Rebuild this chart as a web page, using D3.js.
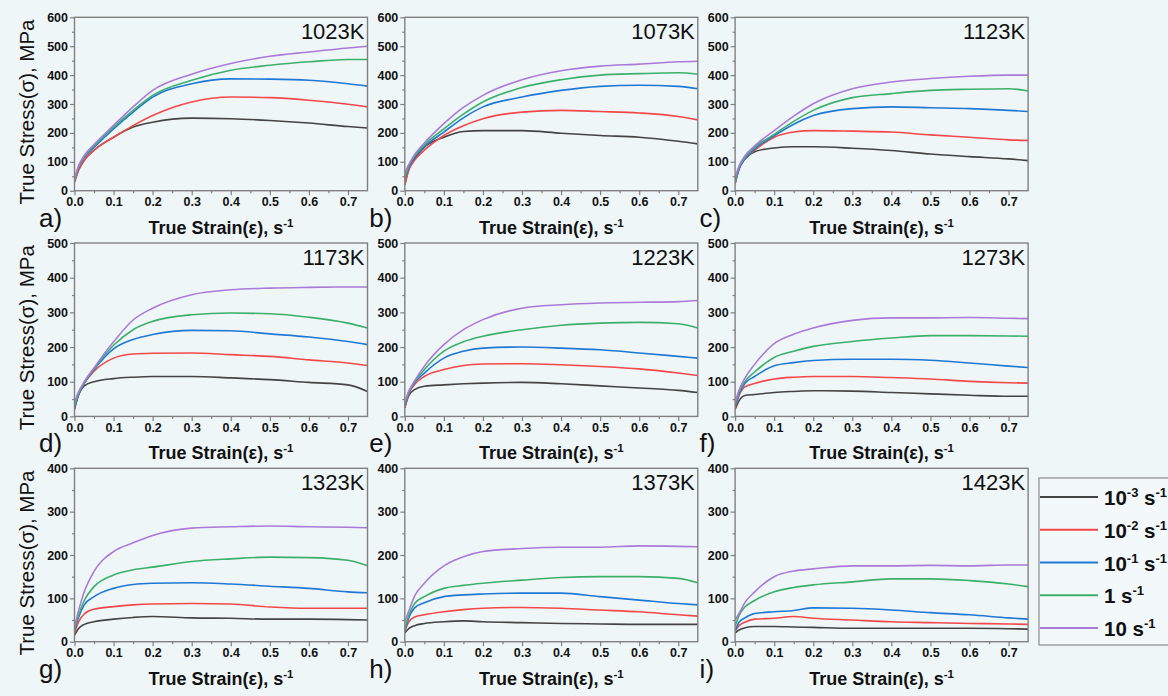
<!DOCTYPE html>
<html>
<head>
<meta charset="utf-8">
<script src="https://cdn.jsdelivr.net/npm/d3@7"></script>
<style>
  html, body { margin: 0; padding: 0; background: #eff6f8; }
  svg { display: block; font-family: "Liberation Sans", Arial, sans-serif; }
</style>
</head>
<body>
<svg id="chart" width="1168" height="696"></svg>
<script>
// True strain sampling points (shared by every curve)
const strain = [0, 0.01, 0.025, 0.05, 0.1, 0.15, 0.2, 0.3, 0.4, 0.5, 0.6, 0.7, 0.75];

// Strain-rate series, in drawing order
const rates = ["1e-3", "1e-2", "1e-1", "1", "10"];
const rateColors = ["#444444", "#f2484a", "#1f78d4", "#3cb06a", "#a97ad8"];
const rateBase = ["10", "10", "10", "1", "10"];
const rateExp = ["-3", "-2", "-1", "", ""];

// Panels
const temperatures = ["1023K", "1073K", "1123K", "1173K", "1223K", "1273K", "1323K", "1373K", "1423K"];
const panelLetters = ["a)", "b)", "c)", "d)", "e)", "f)", "g)", "h)", "i)"];
const stressMax = [600, 600, 600, 500, 500, 500, 400, 400, 400];
const xTickValues = [0, 0.1, 0.2, 0.3, 0.4, 0.5, 0.6, 0.7];

// True stress (MPa), one row per strain rate: 1e-3, 1e-2, 1e-1, 1, 10 s^-1
const stress1023 = [
  [30, 70, 105, 140, 185, 220, 237, 251, 249, 243, 234, 222, 217],
  [30, 70, 105, 140, 185, 225, 260, 307, 324, 322, 313, 299, 290],
  [35, 80, 115, 150, 214, 272, 324, 370, 387, 386, 382, 370, 362],
  [35, 80, 118, 155, 220, 278, 330, 382, 417, 434, 446, 454, 454],
  [40, 85, 122, 160, 226, 290, 347, 403, 440, 465, 480, 494, 500]
];
const stress1073 = [
  [20, 75, 110, 150, 185, 205, 208, 208, 199, 191, 185, 171, 162],
  [20, 70, 105, 140, 191, 225, 249, 272, 278, 274, 269, 257, 245],
  [40, 80, 115, 152, 203, 252, 290, 324, 347, 361, 365, 361, 353],
  [45, 85, 120, 158, 214, 265, 307, 357, 384, 400, 405, 408, 403],
  [60, 90, 125, 165, 232, 288, 330, 384, 415, 431, 438, 446, 448]
];
const stress1123 = [
  [25, 75, 110, 135, 148, 152, 152, 147, 139, 127, 118, 110, 104],
  [25, 75, 110, 140, 185, 203, 208, 206, 203, 193, 185, 176, 174],
  [30, 75, 110, 145, 190, 230, 260, 284, 290, 287, 284, 278, 274],
  [35, 80, 115, 150, 195, 240, 278, 322, 336, 347, 351, 353, 345],
  [45, 85, 120, 155, 208, 258, 301, 353, 376, 388, 396, 400, 400]
];
const stress1173 = [
  [20, 60, 88, 100, 109, 113, 115, 115, 111, 106, 98, 91, 72],
  [25, 62, 95, 130, 168, 180, 182, 183, 178, 173, 163, 154, 147],
  [25, 62, 96, 135, 195, 222, 236, 248, 247, 238, 229, 216, 207],
  [30, 65, 97, 137, 205, 250, 274, 293, 298, 296, 286, 269, 255],
  [40, 70, 100, 140, 215, 278, 312, 351, 365, 370, 372, 373, 373]
];
const stress1223 = [
  [25, 60, 77, 87, 91, 94, 96, 98, 94, 88, 82, 75, 69],
  [25, 65, 92, 115, 135, 147, 151, 152, 149, 144, 137, 125, 118],
  [30, 68, 97, 125, 168, 188, 197, 200, 197, 192, 183, 173, 168],
  [35, 70, 100, 135, 188, 215, 231, 250, 263, 269, 271, 267, 255],
  [40, 72, 102, 145, 207, 250, 279, 312, 322, 327, 329, 331, 334]
];
const stress1273 = [
  [20, 45, 60, 63, 69, 72, 74, 73, 69, 65, 61, 58, 58],
  [25, 60, 85, 95, 108, 113, 115, 115, 112, 108, 101, 97, 96],
  [30, 65, 95, 115, 146, 155, 161, 165, 165, 162, 154, 145, 141],
  [35, 70, 100, 128, 170, 188, 202, 216, 226, 233, 233, 232, 231],
  [40, 75, 110, 150, 210, 237, 255, 277, 284, 284, 285, 283, 282]
];
const stress1323 = [
  [15, 30, 40, 46, 52, 56, 58, 55, 54, 52, 52, 51, 50],
  [20, 45, 64, 75, 81, 85, 87, 88, 87, 80, 77, 77, 77],
  [25, 55, 85, 104, 123, 132, 135, 136, 133, 128, 123, 115, 113],
  [30, 60, 95, 127, 154, 166, 172, 185, 191, 195, 194, 188, 175],
  [35, 70, 115, 162, 208, 228, 245, 262, 265, 267, 265, 264, 263]
];
const stress1373 = [
  [20, 30, 37, 42, 46, 48, 46, 44, 42, 41, 40, 40, 40],
  [25, 45, 57, 62, 69, 74, 77, 79, 77, 73, 69, 62, 59],
  [25, 55, 78, 90, 104, 108, 110, 112, 112, 104, 96, 88, 85],
  [30, 60, 88, 104, 123, 130, 135, 142, 148, 150, 150, 146, 136],
  [45, 70, 105, 135, 175, 196, 208, 215, 218, 218, 221, 220, 219]
];
const stress1423 = [
  [20, 27, 32, 35, 35, 34, 33, 31, 31, 31, 31, 30, 29],
  [25, 37, 45, 52, 54, 58, 54, 50, 46, 44, 42, 41, 40],
  [25, 45, 55, 65, 69, 72, 78, 77, 73, 67, 62, 55, 52],
  [35, 60, 80, 95, 115, 125, 131, 138, 145, 145, 141, 133, 127],
  [50, 65, 90, 115, 150, 163, 168, 175, 175, 176, 175, 177, 177]
];
const panelStress = [stress1023, stress1073, stress1123, stress1173, stress1223,
                     stress1273, stress1323, stress1373, stress1423];

// Layout
const plotW = 293, plotH = 173.4;
const colLeft = [74.5, 404.8, 735.1];
const rowTop = [17.3, 243.0, 468.3];
const frameColor = "#808080";
const FONT = '"Liberation Sans", Arial, sans-serif';

const svg = d3.select("#chart");

svg.append("defs").append("clipPath").attr("id", "plotClip")
  .append("rect").attr("x", 0).attr("y", 0).attr("width", plotW).attr("height", plotH);

temperatures.forEach((temp, i) => {
  const col = i % 3, row = Math.floor(i / 3);
  const g = svg.append("g").attr("transform", `translate(${colLeft[col]},${rowTop[row]})`);

  const x = d3.scaleLinear().domain([0, 0.75]).range([0, plotW]);
  const y = d3.scaleLinear().domain([0, stressMax[i]]).range([plotH, 0]);

  // minor ticks
  const xMinor = d3.axisBottom(x).tickValues(d3.range(0.05, 0.75, 0.1)).tickSize(2.5).tickFormat("");
  const yMinor = d3.axisLeft(y).tickValues(d3.range(50, stressMax[i], 100)).tickSize(2.5).tickFormat("");
  g.append("g").attr("transform", `translate(0,${plotH})`).call(xMinor);
  g.append("g").call(yMinor);

  // major axes
  const xAxis = d3.axisBottom(x).tickValues(xTickValues).tickSize(4.5).tickPadding(2)
    .tickFormat(d3.format(".1f"));
  const yAxis = d3.axisLeft(y).ticks(stressMax[i] / 100).tickSize(4.5).tickPadding(2)
    .tickFormat(d3.format("d"));
  g.append("g").attr("class", "xaxis").attr("transform", `translate(0,${plotH})`).call(xAxis);
  g.append("g").attr("class", "yaxis").call(yAxis);

  g.selectAll(".domain").remove();
  g.selectAll(".tick line").attr("stroke", frameColor).attr("stroke-width", 1.2);
  g.selectAll(".tick text").attr("fill", "#111").attr("font-family", FONT)
    .attr("font-size", 12.5).attr("font-weight", "bold");

  // curves
  const line = d3.line()
    .x((d, k) => x(strain[k]))
    .y(d => y(d))
    .curve(d3.curveMonotoneX);
  g.append("g").attr("clip-path", "url(#plotClip)")
    .selectAll("path").data(panelStress[i]).join("path")
    .attr("d", line)
    .attr("fill", "none")
    .attr("stroke", (d, k) => rateColors[k])
    .attr("stroke-width", 1.6)
    .attr("stroke-linejoin", "round");

  // frame
  g.append("rect").attr("x", 0).attr("y", 0).attr("width", plotW).attr("height", plotH)
    .attr("fill", "none").attr("stroke", frameColor).attr("stroke-width", 1.4);

  // temperature label
  g.append("text").attr("x", plotW - 3).attr("y", 22).attr("text-anchor", "end")
    .attr("font-family", FONT).attr("font-size", 22).attr("fill", "#111").text(temp);

  // panel letter
  g.append("text").attr("x", -35.5).attr("y", plotH + 36)
    .attr("font-family", FONT).attr("font-size", 26).attr("fill", "#111").text(panelLetters[i]);

  // x axis title
  const xt = g.append("text").attr("x", plotW / 2).attr("y", plotH + 43).attr("text-anchor", "middle")
    .attr("font-family", FONT).attr("font-size", 18).attr("font-weight", "bold").attr("fill", "#111");
  xt.append("tspan").text("True Strain(\u03b5), s");
  xt.append("tspan").attr("dy", -7).attr("font-size", 11.5).text("-1");

  // y axis title (left column only)
  if (col === 0) {
    g.append("text")
      .attr("transform", `translate(-40.5,${plotH / 2 + 8}) rotate(-90)`)
      .attr("text-anchor", "middle")
      .attr("font-family", FONT).attr("font-size", 20.5).attr("fill", "#111")
      .text("True Stress(\u03c3), MPa");
  }
});

// legend
const legend = svg.append("g").attr("transform", "translate(1039,478)");
legend.append("rect").attr("x", 0).attr("y", 0).attr("width", 160).attr("height", 167)
  .attr("fill", "#f3f8fa").attr("stroke", "#9a9a9a").attr("stroke-width", 1.4);
const rowY = d3.scalePoint().domain(rates).range([19, 150]);
const item = legend.selectAll("g.item").data(rates).join("g").attr("class", "item")
  .attr("transform", d => `translate(0,${rowY(d)})`);
item.append("line").attr("x1", 1).attr("x2", 59).attr("y1", 0).attr("y2", 0)
  .attr("stroke", (d, k) => rateColors[k]).attr("stroke-width", 1.8);
const lt = item.append("text").attr("x", 65).attr("y", 8)
  .attr("font-family", FONT).attr("font-size", 20.5).attr("font-weight", "bold").attr("fill", "#111");
lt.each(function (d, k) {
  const t = d3.select(this);
  t.append("tspan").text(rateBase[k]);
  if (rateExp[k]) {
    t.append("tspan").attr("dy", -8).attr("font-size", 13).text(rateExp[k]);
    t.append("tspan").attr("dy", 8).text(" s");
  } else {
    t.append("tspan").text(" s");
  }
  t.append("tspan").attr("dy", -8).attr("font-size", 13).text("-1");
});
</script>
</body>
</html>
